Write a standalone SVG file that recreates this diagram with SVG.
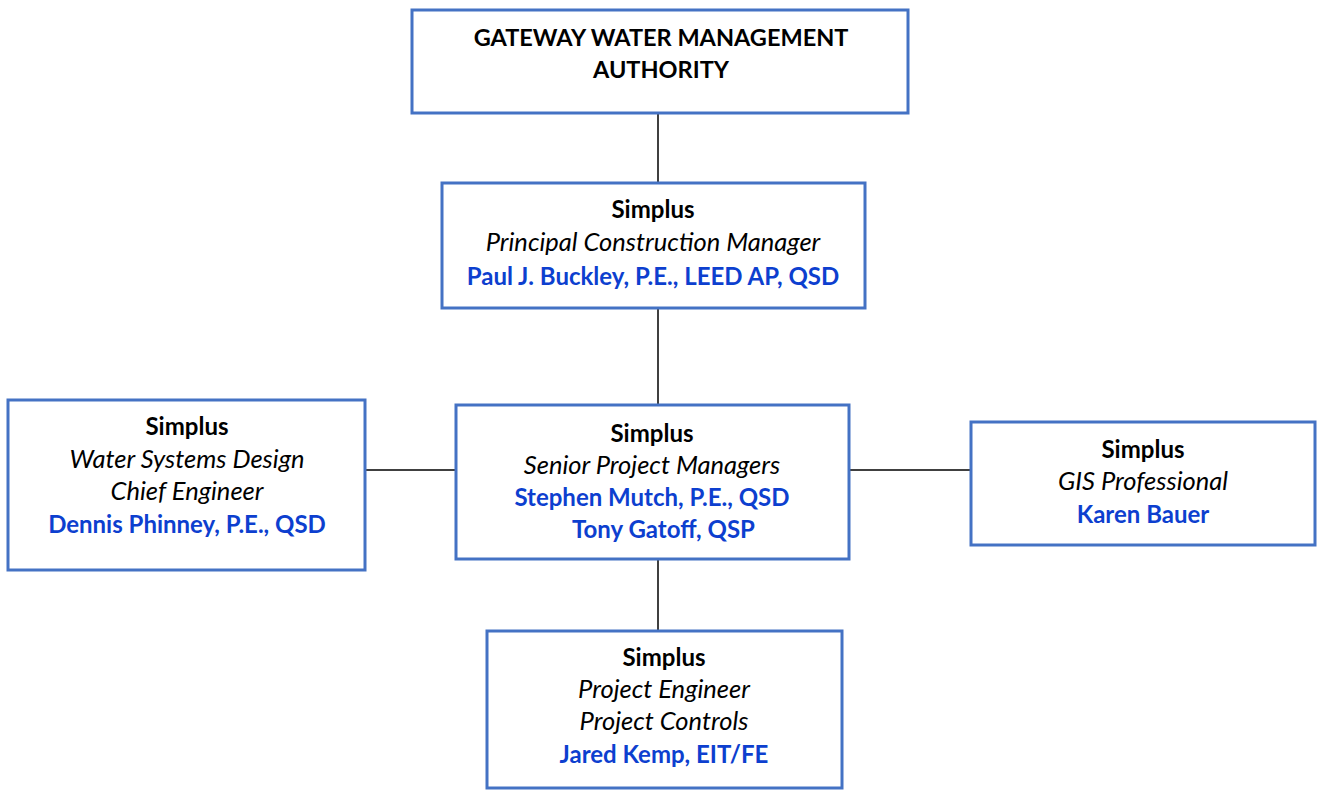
<svg xmlns="http://www.w3.org/2000/svg" width="1317" height="790" viewBox="0 0 1317 790">
<style>
.box{fill:#fff;stroke:#4472C4;stroke-width:3}
.ln{stroke:#000;stroke-width:1.5;fill:none}
text{font-family:Lato,"Open Sans","Liberation Sans",sans-serif;font-size:24px;text-anchor:middle}
.b{font-weight:bold;fill:#000}
.i{font-style:italic;fill:#000;font-size:25.5px}
.n{font-weight:bold;fill:#0D3FCF}
</style>
<rect width="1317" height="790" fill="#fff"/>
<g id="connectors">
<line class="ln" x1="658" y1="114" x2="658" y2="183"/>
<line class="ln" x1="658" y1="308" x2="658" y2="405"/>
<line class="ln" x1="658" y1="559" x2="658" y2="631"/>
<line class="ln" x1="365" y1="470" x2="456" y2="470"/>
<line class="ln" x1="849" y1="470" x2="971" y2="470"/>
</g>
<g id="gateway">
<rect class="box" x="412" y="10" width="496" height="103"/>
<text class="b" x="661" y="46" style="font-size:23.5px">GATEWAY WATER MANAGEMENT</text>
<text class="b" x="661" y="78" style="font-size:23.5px">AUTHORITY</text>
</g>
<g id="principal">
<rect class="box" x="442" y="183" width="423" height="125"/>
<text class="b" x="653" y="218">Simplus</text>
<text class="i" x="653" y="251">Principal Construction Manager</text>
<text class="n" x="653" y="285">Paul J. Buckley, P.E., LEED AP, QSD</text>
</g>
<g id="water">
<rect class="box" x="8" y="400" width="357" height="170"/>
<text class="b" x="187" y="435">Simplus</text>
<text class="i" x="187" y="468">Water Systems Design</text>
<text class="i" x="187" y="500">Chief Engineer</text>
<text class="n" x="187" y="533">Dennis Phinney, P.E., QSD</text>
</g>
<g id="senior">
<rect class="box" x="456" y="405" width="393" height="154"/>
<text class="b" x="652" y="442">Simplus</text>
<text class="i" x="652" y="474">Senior Project Managers</text>
<text class="n" x="652" y="506">Stephen Mutch, P.E., QSD</text>
<text class="n" x="663.5" y="538">Tony Gatoff, QSP</text>
</g>
<g id="gis">
<rect class="box" x="971" y="422" width="344" height="123"/>
<text class="b" x="1143" y="458">Simplus</text>
<text class="i" x="1143" y="490">GIS Professional</text>
<text class="n" x="1143" y="523">Karen Bauer</text>
</g>
<g id="engineer">
<rect class="box" x="487" y="631" width="355" height="157"/>
<text class="b" x="664" y="666">Simplus</text>
<text class="i" x="664" y="698">Project Engineer</text>
<text class="i" x="664" y="730">Project Controls</text>
<text class="n" x="664" y="763">Jared Kemp, EIT/FE</text>
</g>
</svg>
